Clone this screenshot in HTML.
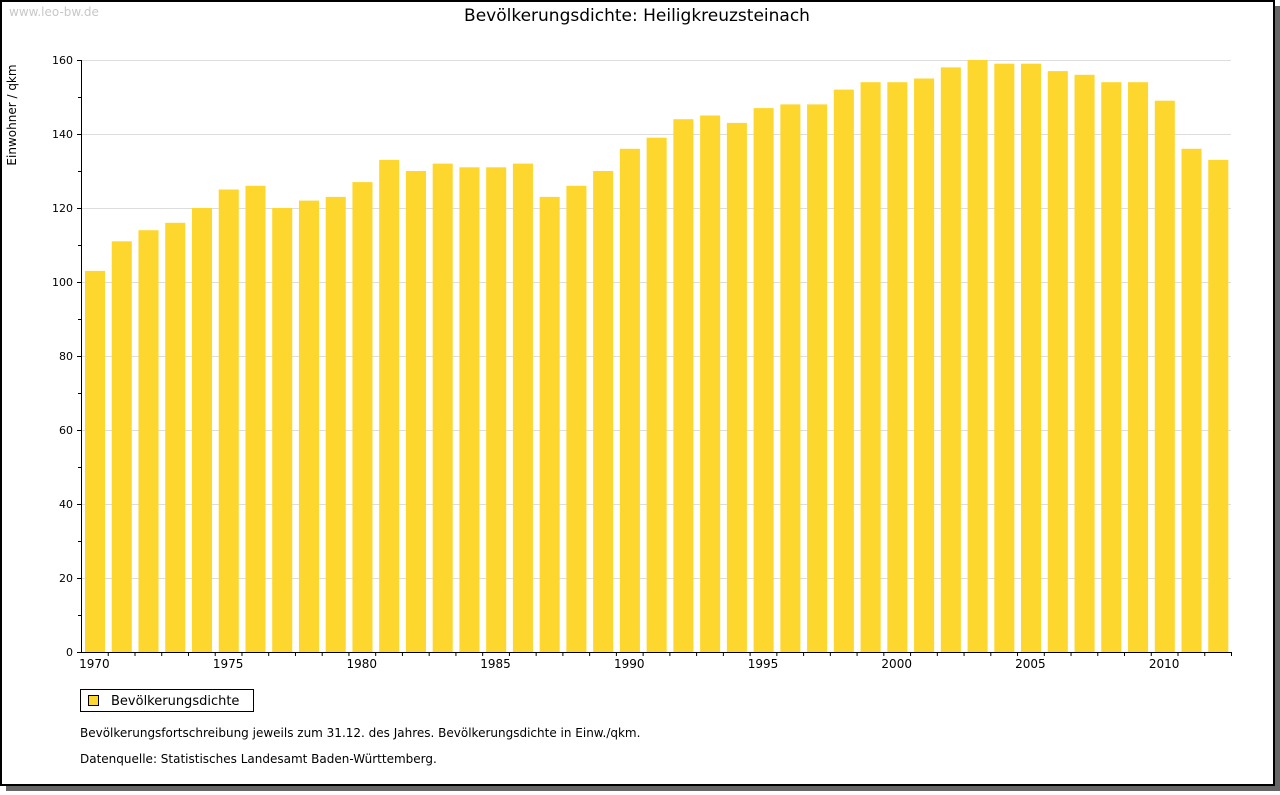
<!DOCTYPE html>
<html><head><meta charset="utf-8"><style>
body{margin:0;background:#fff;width:1280px;height:791px;overflow:hidden;font-family:"DejaVu Sans","Liberation Sans",sans-serif}
</style></head><body>
<svg width="1280" height="791" font-family="DejaVu Sans, Liberation Sans, sans-serif">
<rect x="6" y="6" width="1274" height="785" fill="#666"/>
<rect x="1" y="1" width="1273" height="784" fill="#fff" stroke="#000" stroke-width="2"/>
<text x="9" y="16" font-size="12" fill="#c8c8c8">www.leo-bw.de</text>
<text x="637" y="21" font-size="17" text-anchor="middle" fill="#000">Bevölkerungsdichte: Heiligkreuzsteinach</text>
<text transform="translate(16,115) rotate(-90)" font-size="12" text-anchor="middle">Einwohner / qkm</text>
<g id="grid"></g><g id="bars"></g><g id="axes"></g>
<rect x="80.5" y="689.5" width="173" height="22" fill="#fff" stroke="#000"/>
<rect x="88.5" y="695.5" width="10" height="10" fill="#FDD72E" stroke="#000"/>
<text x="111" y="705" font-size="13">Bevölkerungsdichte</text>
<text x="80" y="737" font-size="12">Bevölkerungsfortschreibung jeweils zum 31.12. des Jahres. Bevölkerungsdichte in Einw./qkm.</text>
<text x="80" y="763" font-size="12">Datenquelle: Statistisches Landesamt Baden-Württemberg.</text>
</svg>
<script>
const years=[];for(let y=1970;y<=2012;y++)years.push(y);
const values=[103,111,114,116,120,125,126,120,122,123,127,133,130,132,131,131,132,123,126,130,136,139,144,145,143,147,148,148,152,154,154,155,158,160,159,159,157,156,154,154,149,136,133];
const yTicks=[0,20,40,60,80,100,120,140,160];
const NS="http://www.w3.org/2000/svg";
const X0=81,X1=1231,Y0=652,Y1=60,MAX=160;
const bw=(X1-X0)/years.length;
const ys=v=>Y0-(v/MAX)*(Y0-Y1);
function mk(t,a,p){const e=document.createElementNS(NS,t);for(const k in a)e.setAttribute(k,a[k]);p.appendChild(e);return e;}
const g=document.getElementById('grid'),b=document.getElementById('bars'),ax=document.getElementById('axes');
yTicks.forEach(v=>{if(v>0){const l=mk('line',{x1:X0,x2:X1,y1:ys(v)+.5,y2:ys(v)+.5,stroke:'#ddd'},g);

}
const t=mk('text',{x:X0-8,y:ys(v)+4,'font-size':11,'text-anchor':'end'},ax);t.textContent=v;


mk('line',{x1:X0-4,x2:X0,y1:ys(v)+.5,y2:ys(v)+.5,stroke:'#000'},ax);});
for(let v=10;v<MAX;v+=20)mk('line',{x1:X0-3,x2:X0,y1:ys(v)+.5,y2:ys(v)+.5,stroke:'#000'},ax);
years.forEach((yr,i)=>{const x=X0+i*bw;
const r=mk('rect',{x:x+4,y:ys(values[i]),width:bw-6.7,height:Y0-ys(values[i]),fill:'#FDD72E'},b);


mk('line',{x1:x+bw+.5,x2:x+bw+.5,y1:Y0,y2:Y0+4,stroke:'#000'},ax);
if(yr%5===0){const t=mk('text',{x:x+bw/2,y:Y0+16,'font-size':12,'text-anchor':'middle'},ax);t.textContent=yr;

}});
const ya=mk('line',{x1:X0+.5,x2:X0+.5,y1:Y1,y2:Y0+1,stroke:'#000'},ax);


const xa=mk('line',{x1:X0,x2:X1,y1:Y0+.5,y2:Y0+.5,stroke:'#000'},ax);


</script>
</body></html>
